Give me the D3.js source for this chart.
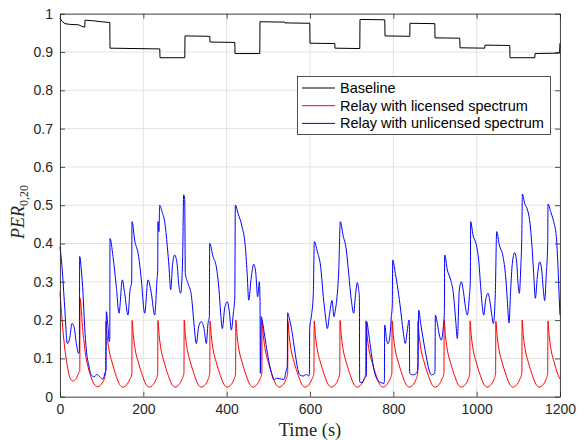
<!DOCTYPE html>
<html>
<head>
<meta charset="utf-8">
<script src="https://cdn.jsdelivr.net/npm/d3@7.9.0/dist/d3.min.js"></script>
<style>
  body { margin: 0; background: #fff; }
  svg { display: block; }
  .tick text { font-family: "Liberation Sans", Arial, sans-serif; font-size: 14px; fill: #262626; }
</style>
</head>
<body>
<svg id="chart" width="579" height="441"></svg>
<script>
// ticks
const xTicks = [0, 200, 400, 600, 800, 1000, 1200];
const yTicks = [0, 0.1, 0.2, 0.3, 0.4, 0.5, 0.6, 0.7, 0.8, 0.9, 1];

const seriesNames = ['Baseline', 'Relay with licensed spectrum', 'Relay with unlicensed spectrum'];
const seriesColors = ['#000000', '#ff0000', '#0000ff'];

// [time (s), PER]
const baseline = [
  [0, 0.988], [5, 0.980], [12, 0.974], [25, 0.972], [45, 0.971], [52, 0.967], [59.5, 0.965],
  [60, 0.983], [75, 0.982], [100, 0.979], [119.5, 0.977],
  [120, 0.910], [180, 0.909], [239.5, 0.908],
  [240, 0.885], [299.5, 0.885],
  [300, 0.942], [359.5, 0.941],
  [360, 0.926], [419.5, 0.925],
  [420, 0.896], [479.5, 0.896],
  [480, 0.979], [539.5, 0.978],
  [540, 0.976], [599.5, 0.975],
  [600, 0.923], [659.5, 0.922],
  [660, 0.910], [719.5, 0.909],
  [720, 0.985], [779.5, 0.984],
  [780, 0.942], [839.5, 0.941],
  [840, 0.975], [899.5, 0.974],
  [900, 0.937], [959.5, 0.936],
  [960, 0.911], [1019.5, 0.910],
  [1020, 0.918], [1079.5, 0.917],
  [1080, 0.885], [1139.5, 0.885],
  [1140, 0.896], [1199, 0.897],
  [1200, 0.923]
];

const relayLicensed = [
  [0, 0.274], [5, 0.2], [11, 0.13], [18, 0.078], [23, 0.052], [31, 0.041], [39, 0.048], [45.5, 0.063], [47.5, 0.066],
  [48, 0.257], [55, 0.17], [62, 0.105], [68, 0.075], [79, 0.039], [90, 0.026], [103, 0.039], [109.5, 0.062],
  [110, 0.197], [113, 0.16], [118, 0.12], [125, 0.09], [135, 0.053], [143, 0.032], [151, 0.025], [160, 0.031], [167, 0.044], [172.5, 0.06],
  [173, 0.199], [176, 0.16], [181, 0.12], [188, 0.09], [198, 0.055], [206, 0.033], [214, 0.025], [223, 0.031], [230, 0.044], [234.5, 0.061],
  [235, 0.199], [238, 0.16], [243, 0.12], [250, 0.09], [260, 0.055], [268, 0.033], [276, 0.025], [285, 0.031], [292, 0.044], [297.5, 0.062],
  [298, 0.2], [301, 0.16], [306, 0.12], [313, 0.09], [323, 0.055], [331, 0.033], [339, 0.025], [348, 0.031], [355, 0.044], [359.5, 0.062],
  [360, 0.198], [363, 0.16], [368, 0.12], [375, 0.09], [385, 0.055], [393, 0.033], [401, 0.025], [410, 0.031], [417, 0.044], [421.5, 0.062],
  [422, 0.2], [425, 0.16], [430, 0.12], [437, 0.09], [447, 0.055], [455, 0.033], [463, 0.025], [472, 0.031], [479, 0.044], [484.5, 0.062],
  [485, 0.198], [488, 0.16], [493, 0.12], [500, 0.09], [510, 0.055], [518, 0.033], [526, 0.025], [535, 0.031], [542, 0.044], [546.5, 0.062],
  [547, 0.197], [550, 0.16], [555, 0.12], [562, 0.09], [572, 0.055], [580, 0.033], [588, 0.025], [597, 0.031], [604, 0.044], [609.5, 0.062],
  [610, 0.198], [613, 0.16], [618, 0.12], [625, 0.09], [635, 0.055], [643, 0.033], [651, 0.025], [660, 0.031], [667, 0.044], [671.5, 0.062],
  [672, 0.199], [675, 0.16], [680, 0.12], [687, 0.09], [697, 0.055], [705, 0.033], [713, 0.025], [722, 0.031], [729, 0.044], [733.5, 0.062],
  [734, 0.198], [737, 0.16], [742, 0.12], [749, 0.09], [759, 0.055], [767, 0.033], [775, 0.025], [784, 0.031], [791, 0.044], [796.5, 0.062],
  [797, 0.198], [800, 0.16], [805, 0.12], [812, 0.09], [822, 0.055], [830, 0.033], [838, 0.025], [847, 0.031], [854, 0.044], [858.5, 0.062],
  [859, 0.197], [862, 0.16], [867, 0.12], [874, 0.09], [884, 0.055], [892, 0.033], [900, 0.025], [909, 0.031], [916, 0.044], [921.5, 0.062],
  [922, 0.199], [925, 0.16], [930, 0.12], [937, 0.09], [947, 0.055], [955, 0.033], [963, 0.025], [972, 0.031], [979, 0.044], [983.5, 0.062],
  [984, 0.198], [987, 0.16], [992, 0.12], [999, 0.09], [1009, 0.055], [1017, 0.033], [1025, 0.025], [1034, 0.031], [1041, 0.044], [1045.5, 0.062],
  [1046, 0.197], [1049, 0.16], [1054, 0.12], [1061, 0.09], [1071, 0.055], [1079, 0.033], [1087, 0.025], [1096, 0.031], [1103, 0.044], [1108.5, 0.062],
  [1109, 0.2], [1112, 0.16], [1117, 0.12], [1124, 0.09], [1134, 0.055], [1142, 0.033], [1150, 0.025], [1159, 0.031], [1166, 0.044], [1170.5, 0.062],
  [1171, 0.198], [1174, 0.16], [1179, 0.12], [1186, 0.09], [1196, 0.055], [1200, 0.046]
];

const relayUnlicensed = [
  [0, 0.392], [4.8, 0.339], [11.2, 0.235], [17.6, 0.139], [23.2, 0.152], [28.8, 0.191], [33.6, 0.183], [39.2, 0.139], [44.8, 0.113], [46.5, 0.12],
  [47.2, 0.366], [51.2, 0.331], [55.2, 0.27], [59.2, 0.183], [63.2, 0.122], [68.8, 0.083], [75.2, 0.057], [81.6, 0.052], [89.6, 0.058], [95.2, 0.052],
  [103.2, 0.046], [108.8, 0.065], [110.5, 0.07], [111.2, 0.222], [115.2, 0.183], [118.4, 0.144], [119.5, 0.15], [120, 0.413], [127.2, 0.366],
  [135.2, 0.287], [141.6, 0.218], [149.6, 0.305], [155.2, 0.27], [163.2, 0.213], [168, 0.278], [172, 0.3], [172.8, 0.457], [179.2, 0.409],
  [188.8, 0.366], [195.2, 0.305], [203.2, 0.218], [211.2, 0.305], [219.2, 0.27], [227.2, 0.213], [232.8, 0.305], [234.5, 0.33], [235.2, 0.457],
  [237.5, 0.431], [239.2, 0.5], [244.8, 0.483], [251.2, 0.457], [257.6, 0.392], [261.6, 0.339], [265.6, 0.279], [270.4, 0.348], [275.2, 0.37],
  [280.8, 0.348], [285.6, 0.287], [289.6, 0.27], [294.4, 0.366], [296.8, 0.527], [299.2, 0.518], [300.8, 0.322], [307.2, 0.296], [315.2, 0.265],
  [320.8, 0.2], [327.2, 0.139], [332.8, 0.183], [339.2, 0.196], [345.6, 0.178], [351.2, 0.139], [355.2, 0.191], [358.5, 0.21], [359.2, 0.4],
  [367.2, 0.366], [375.2, 0.339], [381.6, 0.279], [385.6, 0.218], [389.6, 0.178], [395.2, 0.231], [401.6, 0.248], [406.4, 0.222], [411.2, 0.174],
  [416, 0.218], [419.5, 0.26], [420.8, 0.5], [427.2, 0.479], [436.8, 0.444], [444.8, 0.392], [449.6, 0.313], [452.8, 0.252], [459.2, 0.313],
  [464.8, 0.346], [469.6, 0.326], [474.4, 0.261], [478.5, 0.3], [480, 0.252], [480.8, 0.061], [483.2, 0.209], [487.2, 0.187], [492.8, 0.148],
  [499.2, 0.104], [505.6, 0.07], [513.6, 0.044], [519.2, 0.048], [527.2, 0.047], [537.6, 0.045], [543.2, 0.07], [545.5, 0.08], [546.4, 0.219],
  [551.2, 0.2], [557.6, 0.165], [563.2, 0.122], [569.6, 0.078], [575.2, 0.057], [583.2, 0.054], [591.2, 0.058], [596.8, 0.054], [598.5, 0.06],
  [599.2, 0.178], [603.2, 0.209], [608, 0.27], [610.4, 0.405], [617.6, 0.379], [625.6, 0.339], [632, 0.261], [637.6, 0.205], [641.6, 0.178],
  [647.2, 0.218], [652.8, 0.251], [657.6, 0.209], [660.8, 0.226], [665.6, 0.27], [669, 0.33], [672.8, 0.457], [679.2, 0.422], [687.2, 0.383],
  [692.8, 0.322], [699.2, 0.252], [704.8, 0.218], [709.6, 0.27], [713.6, 0.298], [716.8, 0.279], [718.5, 0.26], [719.2, 0.039], [724.8, 0.037],
  [731.2, 0.048], [734.4, 0.052], [735.5, 0.06], [736, 0.196], [740.8, 0.165], [747.2, 0.113], [753.6, 0.07], [761.6, 0.044], [769.6, 0.037],
  [777.6, 0.035], [778.5, 0.04], [779.2, 0.187], [784, 0.148], [787.2, 0.138], [792, 0.161], [795.2, 0.209], [797.5, 0.24], [798.4, 0.357],
  [804.8, 0.322], [811.2, 0.279], [817.6, 0.226], [823.2, 0.174], [828.8, 0.139], [833.6, 0.174], [837.6, 0.2], [838.5, 0.19], [839.2, 0.061],
  [847.2, 0.057], [855.2, 0.061], [859.2, 0.074], [860.8, 0.226], [865.6, 0.191], [872, 0.148], [879.2, 0.104], [885.6, 0.07], [891.2, 0.057],
  [899.2, 0.061], [900, 0.07], [900.8, 0.213], [905.6, 0.191], [911.2, 0.157], [915.2, 0.148], [920, 0.183], [922.5, 0.22], [923.2, 0.37],
  [929.6, 0.331], [937.6, 0.305], [944, 0.27], [949.6, 0.2], [953.6, 0.152], [958.4, 0.279], [963.2, 0.3], [968.8, 0.27], [972.8, 0.235],
  [977.6, 0.213], [982.4, 0.261], [984.8, 0.3], [985.6, 0.457], [991.2, 0.422], [999.2, 0.396], [1004.8, 0.357], [1009.6, 0.287], [1012.8, 0.244],
  [1016.8, 0.213], [1021.6, 0.252], [1027.2, 0.27], [1032, 0.248], [1036.8, 0.209], [1040, 0.191], [1044.8, 0.27], [1048, 0.431], [1054.4, 0.396],
  [1063.2, 0.366], [1069.6, 0.313], [1073.6, 0.252], [1077.6, 0.193], [1081.6, 0.279], [1085.6, 0.348], [1091.2, 0.376], [1096, 0.352],
  [1099.2, 0.296], [1102.4, 0.27], [1105.6, 0.331], [1108.8, 0.45], [1109.6, 0.529], [1115.2, 0.505], [1123.2, 0.483], [1128, 0.453],
  [1132.8, 0.392], [1136.8, 0.322], [1140.8, 0.257], [1145.6, 0.313], [1151.2, 0.352], [1156, 0.331], [1160, 0.279], [1163.2, 0.251],
  [1167.2, 0.322], [1170.5, 0.4], [1171.2, 0.503], [1177.6, 0.483], [1184.8, 0.457], [1191.2, 0.418], [1195.2, 0.339], [1198.4, 0.25], [1200, 0.213]
];

const plotLeft = 60, plotRight = 560, plotTop = 13.7, plotBottom = 396.7;
const axisColor = '#262626';

let svg = d3.select('#chart');
let x = d3.scaleLinear().domain([0, 1200]).range([plotLeft, plotRight]);
let y = d3.scaleLinear().domain([0, 1]).range([plotBottom, plotTop]);

// grid
svg.append('g').selectAll('line').data(xTicks).join('line')
  .attr('x1', d => x(d)).attr('x2', d => x(d)).attr('y1', plotTop).attr('y2', plotBottom)
  .attr('stroke', '#e3e3e3').attr('stroke-width', 1);
svg.append('g').selectAll('line').data(yTicks).join('line')
  .attr('x1', plotLeft).attr('x2', plotRight).attr('y1', d => y(d)).attr('y2', d => y(d))
  .attr('stroke', '#e3e3e3').attr('stroke-width', 1);

// lines
let series = [baseline, relayLicensed, relayUnlicensed];
let lineLinear = d3.line().x(d => x(d[0])).y(d => y(d[1]));
let lineSmooth = d3.line().x(d => x(d[0])).y(d => y(d[1])).curve(d3.curveMonotoneX);
series.forEach((s, i) => {
  svg.append('path')
    .attr('d', i === 0 ? lineLinear(s) : lineSmooth(s))
    .attr('fill', 'none')
    .attr('stroke', seriesColors[i])
    .attr('stroke-width', 1)
    .attr('stroke-linejoin', 'round');
});

// axes (ticks inside, box on)
let styleAxis = g => {
  g.select('.domain').attr('stroke', axisColor).attr('stroke-width', 0.8);
  g.selectAll('.tick line').attr('stroke', axisColor).attr('stroke-width', 0.8);
};
svg.append('g').attr('transform', `translate(0,${plotBottom})`)
  .call(d3.axisBottom(x).tickValues(xTicks).tickSize(-5).tickSizeOuter(0).tickPadding(7).tickFormat(d => d))
  .call(styleAxis);
svg.append('g').attr('transform', `translate(0,${plotTop})`)
  .call(d3.axisTop(x).tickValues(xTicks).tickSize(-5).tickSizeOuter(0).tickFormat(''))
  .call(styleAxis);
svg.append('g').attr('transform', `translate(${plotLeft},0)`)
  .call(d3.axisLeft(y).tickValues(yTicks).tickSize(-5).tickSizeOuter(0).tickPadding(7).tickFormat(d => d))
  .call(styleAxis);
svg.append('g').attr('transform', `translate(${plotRight},0)`)
  .call(d3.axisRight(y).tickValues(yTicks).tickSize(-5).tickSizeOuter(0).tickFormat(''))
  .call(styleAxis);
svg.selectAll('.tick text').attr('font-family', null).attr('font-size', null);

// axis labels
svg.append('text')
  .attr('x', (plotLeft + plotRight) / 2).attr('y', 436)
  .attr('text-anchor', 'middle')
  .attr('font-family', '"Liberation Serif", serif').attr('font-size', 18.5)
  .attr('fill', axisColor)
  .text('Time (s)');

let yl = svg.append('text')
  .attr('transform', 'translate(24,212) rotate(-90)')
  .attr('text-anchor', 'middle')
  .attr('font-family', '"Liberation Serif", serif')
  .attr('fill', axisColor);
yl.append('tspan').attr('font-style', 'italic').attr('font-size', 18).text('PER');
yl.append('tspan').attr('font-size', 12).attr('dy', 4).text('0,20');

// legend
let lg = svg.append('g');
lg.append('rect').attr('x', 297.5).attr('y', 76.5).attr('width', 253).attr('height', 58)
  .attr('fill', '#fff').attr('stroke', axisColor).attr('stroke-width', 0.8);
seriesNames.forEach((name, i) => {
  let cy = 88 + i * 17.7;
  lg.append('line').attr('x1', 302).attr('x2', 335).attr('y1', cy).attr('y2', cy)
    .attr('stroke', seriesColors[i]).attr('stroke-width', 1);
  lg.append('text').attr('x', 340).attr('y', cy).attr('dy', '0.35em')
    .attr('font-family', '"Liberation Sans", Arial, sans-serif').attr('font-size', 14.5)
    .attr('fill', '#000').text(name);
});
</script>
</body>
</html>
